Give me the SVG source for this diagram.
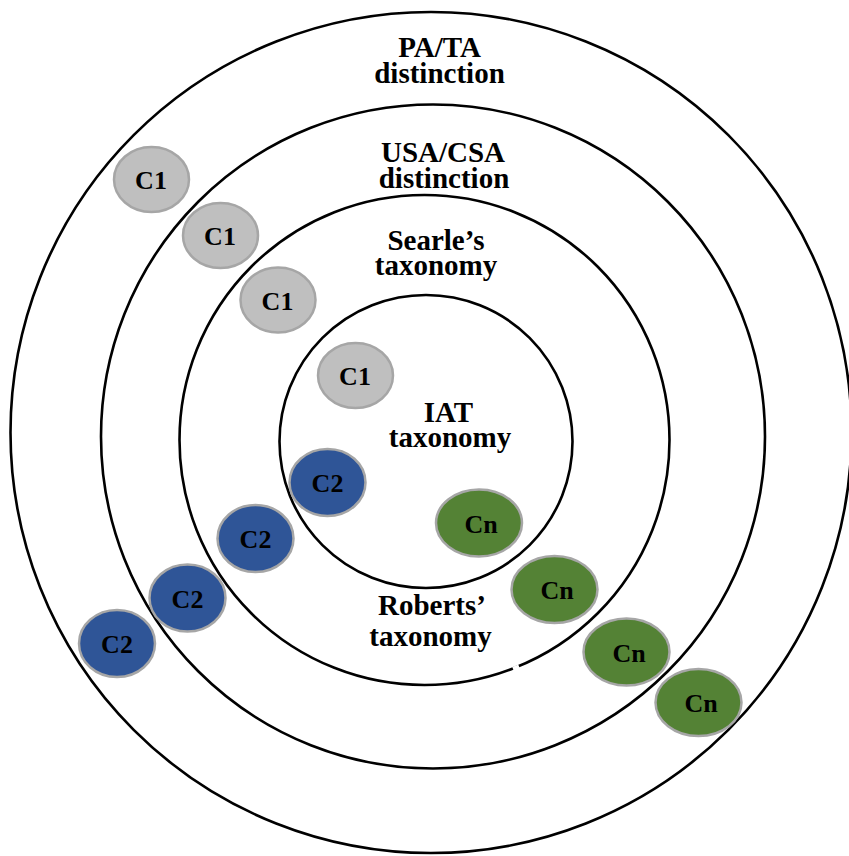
<svg xmlns="http://www.w3.org/2000/svg" width="849" height="856" viewBox="0 0 849 856">
<style>
.ring{fill:none;stroke:#000;stroke-width:2.6}
.lbl{font-family:"Liberation Serif","Times New Roman",serif;font-weight:bold;font-size:29px;text-anchor:middle;fill:#000}
.nd{stroke:#A6A6A6;stroke-width:2.5}
.c1{fill:#BFBFBF}
.c2{fill:#2F5597}
.cn{fill:#548235}
.nt{font-family:"Liberation Serif","Times New Roman",serif;font-weight:bold;font-size:26px;text-anchor:middle;fill:#000}
</style>
<rect width="849" height="856" fill="#fff"/>
<g id="rings">
<g id="ring-pata"><circle class="ring" cx="431" cy="432.5" r="420.5"/>
<text class="lbl" x="439.5" y="57">PA/TA</text><text class="lbl" x="439.5" y="83">distinction</text></g>
<g id="ring-usacsa"><circle class="ring" cx="433" cy="436.5" r="332"/>
<text class="lbl" x="443" y="162">USA/CSA</text><text class="lbl" x="444" y="188">distinction</text></g>
<g id="ring-searle"><circle class="ring" cx="424.5" cy="440" r="245"/>
<line x1="513" y1="668.8" x2="519" y2="666.4" stroke="#fff" stroke-width="4"/>
<text class="lbl" x="436" y="250">Searle’s</text><text class="lbl" x="436" y="275">taxonomy</text></g>
<g id="ring-iat"><circle class="ring" cx="426" cy="441.5" r="146.5"/>
<text class="lbl" x="448.5" y="422">IAT</text><text class="lbl" x="450" y="447">taxonomy</text></g>
<g id="label-roberts"><text class="lbl" x="432" y="615">Roberts’</text><text class="lbl" x="430.5" y="646">taxonomy</text></g>
</g>
<g id="connectors"></g>
<g id="c1-1"><ellipse class="nd c1" cx="151.5" cy="179.5" rx="37.5" ry="32.5"/><text class="nt" x="151" y="189">C1</text></g>
<g id="c1-2"><ellipse class="nd c1" cx="220.5" cy="235.5" rx="37.5" ry="32.5"/><text class="nt" x="220" y="245">C1</text></g>
<g id="c1-3"><ellipse class="nd c1" cx="278" cy="300" rx="37.5" ry="32.5"/><text class="nt" x="277.5" y="309.5">C1</text></g>
<g id="c1-4"><ellipse class="nd c1" cx="355.5" cy="375.5" rx="37.5" ry="32.5"/><text class="nt" x="355" y="385">C1</text></g>
<g id="c2-1"><ellipse class="nd c2" cx="327.5" cy="482.5" rx="38" ry="33.5"/><text class="nt" x="327.5" y="492">C2</text></g>
<g id="c2-2"><ellipse class="nd c2" cx="255.5" cy="538.5" rx="38" ry="33.5"/><text class="nt" x="255.5" y="548">C2</text></g>
<g id="c2-3"><ellipse class="nd c2" cx="187.5" cy="598" rx="38" ry="33.5"/><text class="nt" x="187.5" y="607.5">C2</text></g>
<g id="c2-4"><ellipse class="nd c2" cx="117" cy="643.5" rx="38" ry="33.5"/><text class="nt" x="117" y="653">C2</text></g>
<g id="cn-1"><ellipse class="nd cn" cx="479" cy="523" rx="43" ry="33.5"/><text class="nt" x="481" y="532.5">Cn</text></g>
<g id="cn-2"><ellipse class="nd cn" cx="554.5" cy="589.5" rx="43" ry="33.5"/><text class="nt" x="557" y="599">Cn</text></g>
<g id="cn-3"><ellipse class="nd cn" cx="626.5" cy="652" rx="43" ry="33.5"/><text class="nt" x="629" y="661.5">Cn</text></g>
<g id="cn-4"><ellipse class="nd cn" cx="698.5" cy="702.5" rx="43" ry="33.5"/><text class="nt" x="701" y="712">Cn</text></g>
</svg>
